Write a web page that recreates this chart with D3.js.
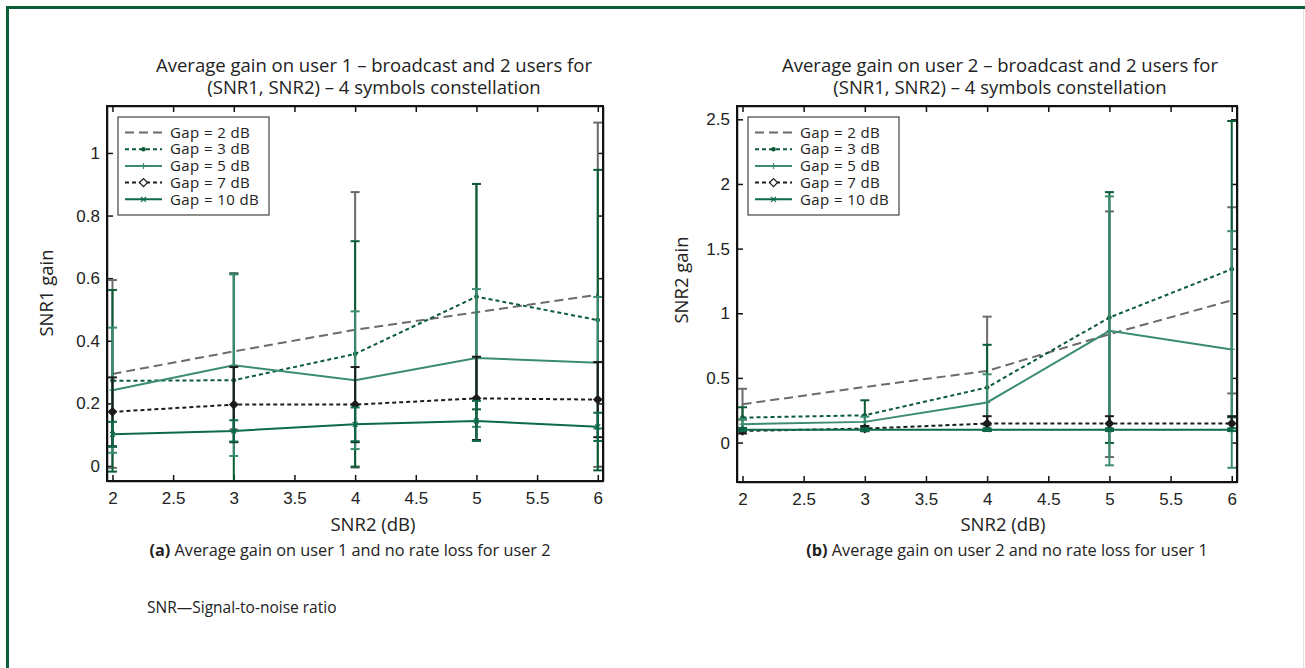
<!DOCTYPE html>
<html>
<head>
<meta charset="utf-8">
<script src="https://cdn.jsdelivr.net/npm/d3@7"></script>
<style>
  body { margin: 0; background: #fff; }
  svg { display: block; font-family: 'Open Sans', sans-serif; }
  .axis text { font-size: 17px; fill: #222; }
  .axis line, .axis path { stroke: #111; stroke-width: 1.5; }
</style>
</head>
<body>
<script>
const width = 1305;
const height = 668;

// shared x values and tick labels
const snr2 = [2, 3, 4, 5, 6];
const xTicks = [2, 2.5, 3, 3.5, 4, 4.5, 5, 5.5, 6];
const gapNames = ['Gap = 2 dB', 'Gap = 3 dB', 'Gap = 5 dB', 'Gap = 7 dB', 'Gap = 10 dB'];

// (a) user 1 : mean gain per gap, then error half-width
const user1Gap2 = [0.294, 0.366, 0.435, 0.491, 0.547];
const user1Gap3 = [0.272, 0.274, 0.358, 0.541, 0.466];
const user1Gap5 = [0.242, 0.322, 0.274, 0.345, 0.330];
const user1Gap7 = [0.173, 0.196, 0.196, 0.216, 0.212];
const user1Gap10 = [0.101, 0.112, 0.133, 0.144, 0.125];
const user1Err2 = [0.30, 0.25, 0.44, 0.41, 0.55];
const user1Err3 = [0.29, 0.34, 0.36, 0.36, 0.48];
const user1Err5 = [0.20, 0.29, 0.22, 0.22, 0.21];
const user1Err7 = [0.11, 0.12, 0.12, 0.133, 0.12];
const user1Err10 = [0.04, 0.034, 0.054, 0.064, 0.045];
const user1Ticks = [0, 0.2, 0.4, 0.6, 0.8, 1];

// (b) user 2
const user2Gap2 = [0.296, 0.43, 0.554, 0.838, 1.10];
const user2Gap3 = [0.193, 0.211, 0.426, 0.967, 1.341];
const user2Gap5 = [0.142, 0.16, 0.31, 0.864, 0.72];
const user2Gap7 = [0.09, 0.108, 0.147, 0.147, 0.147];
const user2Gap10 = [0.1, 0.1, 0.1, 0.1, 0.1];
const user2Err2 = [0.12, 0, 0.42, 0.95, 0.72];
const user2Err3 = [0.08, 0.116, 0.33, 0.97, 1.146];
const user2Err5 = [0.04, 0.04, 0.218, 1.04, 0.915];
const user2Err7 = [0.02, 0.02, 0.057, 0.057, 0.057];
const user2Err10 = [0.01, 0.01, 0.01, 0.01, 0.01];
const user2Ticks = [0, 0.5, 1, 1.5, 2, 2.5];

const styles = [
  { color: '#6b6b6b', dash: '9,5', marker: 'none' },
  { color: '#0b5b36', dash: '4,3', marker: 'dot' },
  { color: '#3b8c6e', dash: null, marker: 'plus' },
  { color: '#1c1c1c', dash: '4,3', marker: 'diamond' },
  { color: '#0d6a48', dash: null, marker: 'cross' }
];

function init() {
  const svg = d3.select('body')
    .append('svg')
    .attr('width', width)
    .attr('height', height);

  // page frame
  svg.append('rect')
    .attr('x', 6).attr('y', 6).attr('width', width).attr('height', 3)
    .attr('fill', '#0b5d35');
  svg.append('rect')
    .attr('x', 6).attr('y', 6).attr('width', 3).attr('height', height)
    .attr('fill', '#0b5d35');
  svg.append('line')
    .attr('x1', 1303.5).attr('x2', 1303.5).attr('y1', 9).attr('y2', height)
    .attr('stroke', '#e2e2e2');

  drawPanel(svg, {
    id: 'a',
    left: 107, right: 603, top: 106, bottom: 481,
    yDomain: [-0.048, 1.15],
    yTicks: user1Ticks,
    means: [user1Gap2, user1Gap3, user1Gap5, user1Gap7, user1Gap10],
    errs: [user1Err2, user1Err3, user1Err5, user1Err7, user1Err10],
    yLabel: 'SNR1 gain', yLabelX: 47, yLabelY: 293,
    titles: ['Average gain on user 1 \u2013 broadcast and 2 users for',
      '(SNR1, SNR2) \u2013 4 symbols constellation'],
    titleX: 374, labelX: 373,
    capBold: '(a)', caption: ' Average gain on user 1 and no rate loss for user 2', captionX: 350
  });

  drawPanel(svg, {
    id: 'b',
    left: 737, right: 1237, top: 106, bottom: 482,
    yDomain: [-0.305, 2.603],
    yTicks: user2Ticks,
    means: [user2Gap2, user2Gap3, user2Gap5, user2Gap7, user2Gap10],
    errs: [user2Err2, user2Err3, user2Err5, user2Err7, user2Err10],
    yLabel: 'SNR2 gain', yLabelX: 682, yLabelY: 280,
    titles: ['Average gain on user 2 \u2013 broadcast and 2 users for',
      '(SNR1, SNR2) \u2013 4 symbols constellation'],
    titleX: 1000, labelX: 1003,
    capBold: '(b)', caption: ' Average gain on user 2 and no rate loss for user 1', captionX: 1007
  });

  svg.append('text')
    .attr('x', 147).attr('y', 613)
    .attr('font-size', 15.5).attr('fill', '#222')
    .text('SNR\u2014Signal-to-noise ratio');
}

function drawPanel(svg, p) {
  const x = d3.scaleLinear().domain([1.955, 6.043]).range([p.left, p.right]);
  const y = d3.scaleLinear().domain(p.yDomain).range([p.bottom, p.top]);

  svg.append('clipPath').attr('id', 'clip-' + p.id)
    .append('rect')
    .attr('x', p.left).attr('y', p.top)
    .attr('width', p.right - p.left).attr('height', p.bottom - p.top);

  // axes, ticks pointing inward
  svg.append('g').attr('class', 'axis')
    .attr('transform', `translate(0, ${p.bottom})`)
    .call(d3.axisBottom(x).tickValues(xTicks).tickFormat(d3.format('~g'))
      .tickSizeInner(-6).tickSizeOuter(0).tickPadding(11));
  svg.append('g').attr('class', 'axis')
    .attr('transform', `translate(0, ${p.top})`)
    .call(d3.axisTop(x).tickValues(xTicks).tickFormat('')
      .tickSizeInner(-6).tickSizeOuter(0));
  svg.append('g').attr('class', 'axis')
    .attr('transform', `translate(${p.left}, 0)`)
    .call(d3.axisLeft(y).tickValues(p.yTicks).tickFormat(d3.format('~g'))
      .tickSizeInner(-6).tickSizeOuter(0).tickPadding(7));
  svg.append('g').attr('class', 'axis')
    .attr('transform', `translate(${p.right}, 0)`)
    .call(d3.axisRight(y).tickValues(p.yTicks).tickFormat('')
      .tickSizeInner(-6).tickSizeOuter(0));

  const plot = svg.append('g').attr('clip-path', `url(#clip-${p.id})`);
  const line = d3.line().x((d, i) => x(snr2[i])).y(d => y(d));

  p.means.forEach((vals, s) => {
    const st = styles[s];
    const g = plot.append('g');
    const errs = p.errs[s];

    // error bars
    vals.forEach((v, i) => {
      if (!errs[i]) return;
      const cx = x(snr2[i]);
      const y1 = y(v - errs[i]);
      const y2 = y(v + errs[i]);
      g.append('line').attr('x1', cx).attr('x2', cx).attr('y1', y1).attr('y2', y2)
        .attr('stroke', st.color).attr('stroke-width', 2);
      [y1, y2].forEach(yy => {
        g.append('line').attr('x1', cx - 4.5).attr('x2', cx + 4.5).attr('y1', yy).attr('y2', yy)
          .attr('stroke', st.color).attr('stroke-width', 2);
      });
    });

    g.append('path')
      .datum(vals)
      .attr('d', line)
      .attr('fill', 'none')
      .attr('stroke', st.color)
      .attr('stroke-width', 2)
      .attr('stroke-dasharray', st.dash);

    vals.forEach((v, i) => {
      addMarker(g, st, x(snr2[i]), y(v), st.color);
    });
  });

  // frame
  svg.append('rect')
    .attr('x', p.left).attr('y', p.top)
    .attr('width', p.right - p.left).attr('height', p.bottom - p.top)
    .attr('fill', 'none').attr('stroke', '#111').attr('stroke-width', 2);

  // legend
  const lg = svg.append('g').attr('transform', `translate(${p.left + 11}, ${p.top + 11})`);
  lg.append('rect')
    .attr('width', 151).attr('height', 98)
    .attr('fill', '#fff').attr('stroke', '#444').attr('stroke-width', 1.2);
  gapNames.forEach((name, s) => {
    const st = styles[s];
    const ry = 15.5 + s * 16.7;
    lg.append('line')
      .attr('x1', 7).attr('x2', 44).attr('y1', ry).attr('y2', ry)
      .attr('stroke', st.color).attr('stroke-width', 2)
      .attr('stroke-dasharray', st.dash);
    addMarker(lg, st, 25.5, ry, '#fff');
    lg.append('text')
      .attr('x', 52).attr('y', ry)
      .attr('dy', '0.35em')
      .attr('font-size', 15).attr('fill', '#222')
      .attr('letter-spacing', 0.4)
      .text(name);
  });

  // texts
  p.titles.forEach((t, i) => {
    svg.append('text')
      .attr('x', p.titleX).attr('y', 72 + i * 22)
      .attr('text-anchor', 'middle')
      .attr('font-size', 18.5).attr('fill', '#222')
      .text(t);
  });

  svg.append('text')
    .attr('x', p.labelX).attr('y', 531)
    .attr('text-anchor', 'middle')
    .attr('font-size', 18.5).attr('fill', '#222')
    .text('SNR2 (dB)');

  svg.append('text')
    .attr('transform', `translate(${p.yLabelX}, ${p.yLabelY}) rotate(-90)`)
    .attr('text-anchor', 'middle')
    .attr('dy', '0.35em')
    .attr('font-size', 18.5).attr('fill', '#222')
    .text(p.yLabel);

  const cap = svg.append('text')
    .attr('x', p.captionX).attr('y', 556)
    .attr('text-anchor', 'middle')
    .attr('font-size', 16.3).attr('fill', '#222');
  cap.append('tspan').attr('font-weight', 'bold').text(p.capBold);
  cap.append('tspan').text(p.caption);
}

function addMarker(g, st, cx, cy, diamondFill) {
  if (st.marker === 'dot') {
    g.append('circle').attr('cx', cx).attr('cy', cy).attr('r', 2.3).attr('fill', st.color);
  } else if (st.marker === 'plus') {
    g.append('path')
      .attr('d', `M${cx - 3},${cy}H${cx + 3}M${cx},${cy - 3}V${cy + 3}`)
      .attr('stroke', st.color).attr('stroke-width', 1.2);
  } else if (st.marker === 'diamond') {
    g.append('path')
      .attr('d', `M${cx},${cy - 4}L${cx + 4},${cy}L${cx},${cy + 4}L${cx - 4},${cy}Z`)
      .attr('fill', diamondFill).attr('stroke', st.color).attr('stroke-width', 1.3);
  } else if (st.marker === 'cross') {
    g.append('path')
      .attr('d', `M${cx - 2.5},${cy - 2.5}L${cx + 2.5},${cy + 2.5}M${cx - 2.5},${cy + 2.5}L${cx + 2.5},${cy - 2.5}`)
      .attr('stroke', st.color).attr('stroke-width', 1.2);
  }
}

init();
</script>
</body>
</html>
